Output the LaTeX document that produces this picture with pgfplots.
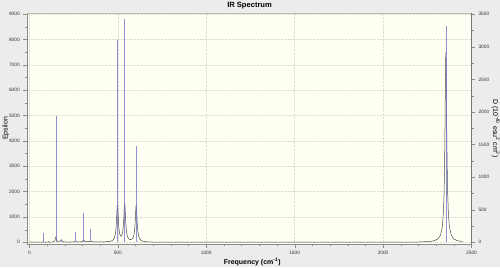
\documentclass[border=0pt]{standalone}
\usepackage{fontspec}
\setmainfont{Liberation Sans}
\usepackage{pgfplots}
\pgfplotsset{compat=1.18}
\definecolor{figbg}{RGB}{236,236,236}
\definecolor{plotbg}{RGB}{255,255,244}
\definecolor{gridc}{RGB}{222,222,210}
\definecolor{axc}{RGB}{140,140,140}
\definecolor{stickc}{RGB}{115,115,205}
\definecolor{curvec}{RGB}{75,75,75}
\begin{document}
\begin{tikzpicture}[x=1bp,y=1bp]
\path[use as bounding box, fill=figbg] (0,0) rectangle (500,267);
\pgfplotsset{
  common/.style={
    at={(26.7bp,22.7bp)}, anchor=south west,
    scale only axis, width=444.8bp, height=231.6bp,
    xmin=-15, xmax=2500,
    tick align=outside,
    major tick length=3.5bp, minor tick length=2bp,
    tick style={axc},
    ticklabel style={font=\fontsize{4.8}{5.5}\selectfont, text=black!80},
    /pgf/number format/assume math mode=true,
    /pgf/number format/1000 sep={},
  }
}
\begin{axis}[
  common,
  ymin=-80, ymax=9060,
  axis background/.style={fill=plotbg},
  axis x line*=bottom, axis y line*=left,
  axis line style={axc},
  xtick={0,500,...,2500}, minor x tick num=4,
  ytick={0,1000,...,9000}, minor y tick num=1,
  grid=major,
  major grid style={gridc, densely dotted, line width=0.4bp},
  xlabel={\textbf{Frequency (cm\textsuperscript{-1})}},
  ylabel={Epsilon},
  title={IR Spectrum},
  every axis x label/.style={at={(axis description cs:0.507,0)}, anchor=center, yshift=-17.5bp, font=\fontsize{7}{8}\selectfont},
  every axis y label/.style={at={(axis description cs:-0.047,0.5)}, anchor=center, rotate=90, font=\fontsize{7}{8}\selectfont},
  every axis title/.style={at={(axis description cs:0.501,1)}, anchor=center, yshift=7bp, font=\bfseries\fontsize{7.6}{8}\selectfont},
]
\draw[gridc!85!black, line width=0.4bp] (rel axis cs:0,1) -- (rel axis cs:1,1);
\addplot[curvec, line width=0.5bp, no marks] coordinates {
(0,3)(60,4)(72,6)(77,14)(79,20)(81,14)(86,6)(100,6)(106,10)(109,14)(112,10)(120,8)
(132,15)(140,35)(144,70)(147,135)(150,205)(153,135)(156,70)(160,40)(166,35)(172,45)
(176,62)(179,70)(182,60)(186,38)(195,18)(215,10)(245,12)(254,20)(259,35)(264,20)
(275,12)(292,18)(300,38)(304,65)(307,92)(310,65)(314,38)(322,22)(334,22)(340,38)
(343,50)(345,55)(347,50)(350,38)(358,22)(375,14)(400,14)(430,20)(450,30)(465,55)
(472,85)(480,164)(486,313)(490,548)(494,1034)(496,1338)(498,1486)(500,1345)(502,1047)
(506,575)(510,357)(515,255)(519,241)(524,288)(529,458)(533,801)(535,1086)(537,1395)
(539,1543)(541,1391)(543,1077)(545,788)(549,435)(554,244)(560,153)(566,117)(572,107)
(578,116)(584,152)(590,252)(595,469)(598,746)(600,1022)(602,1323)(604,1467)(606,1322)
(608,1019)(610,740)(614,398)(618,238)(624,131)(632,73)(645,38)(665,20)(700,9)(800,3)
(1000,2)(1600,2)(2000,3)(2200,11)(2260,30)(2290,63)(2310,131)(2325,288)(2335,620)
(2341,1164)(2345,1984)(2348,3176)(2350,4427)(2352,6000)(2353.5,7059)(2355,7500)
(2356.5,7059)(2358,6000)(2360,4427)(2362,3176)(2365,1984)(2369,1164)(2375,620)
(2385,288)(2400,131)(2420,63)(2450,30)
};
\end{axis}
\begin{axis}[
  common,
  ymin=-31.1, ymax=3523,
  axis x line=none,
  axis y line*=right,
  axis line style={axc!85!black, line width=1.1bp},
  ytick={0,500,...,3500}, minor y tick num=1,
  ylabel={D (10\textsuperscript{-40} esu\textsuperscript{2} cm\textsuperscript{2})},
  every axis y label/.style={at={(axis description cs:1.054,0.5)}, anchor=center, rotate=-90, font=\fontsize{7}{8}\selectfont},
]
\addplot[ycomb, stickc, opacity=0.8, line width=0.6bp, no marks] coordinates {
(79,148)(109,25)(150,1944)(179,51)(259,163)(307,455)(345,204)
(498,3111)(539,3422)(604,1474)(2355,3325)
};
\end{axis}
\end{tikzpicture}
\end{document}
